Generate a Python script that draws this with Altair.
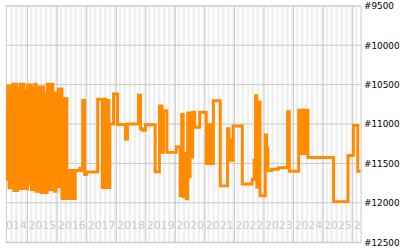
import altair as alt
import pandas as pd

# ---- data ----
dates = [
    "2014-04-08", "2014-04-16", "2014-05-01", "2014-05-16", "2014-06-01", "2014-06-16",
    "2014-07-01", "2014-07-16", "2014-08-01", "2014-08-16", "2014-09-01", "2014-09-16",
    "2014-10-01", "2014-10-16", "2014-11-01", "2014-11-16", "2014-12-01", "2014-12-16",
    "2015-01-01", "2015-01-16", "2015-02-01", "2015-02-16", "2015-03-01", "2015-03-16",
    "2015-04-01", "2015-04-16", "2015-05-01", "2015-05-16", "2015-06-01", "2015-06-16",
    "2015-07-01", "2015-07-16", "2015-08-01", "2015-08-16", "2015-09-01", "2015-09-16",
    "2015-10-01", "2015-10-16", "2015-11-01", "2015-11-08", "2015-11-16", "2015-12-01",
    "2015-12-16", "2016-01-01", "2016-01-16", "2016-02-01", "2016-02-16", "2016-03-01",
    "2016-03-16", "2016-04-01", "2016-04-16", "2016-05-01", "2016-05-16", "2016-06-01",
    "2016-06-16", "2016-07-01", "2016-07-16", "2016-08-01", "2016-08-12", "2016-10-07",
    "2016-10-28", "2016-11-12", "2016-12-06", "2016-12-27", "2017-05-16", "2017-07-13",
    "2017-08-07", "2017-08-25", "2017-09-12", "2017-10-01", "2017-10-13", "2017-11-28",
    "2018-01-16", "2018-04-24", "2018-05-19", "2018-10-01", "2018-10-28", "2018-11-18",
    "2018-12-27", "2019-04-27", "2019-06-18", "2019-07-19", "2019-08-07", "2019-09-18",
    "2020-01-13", "2020-03-01", "2020-03-19", "2020-04-07", "2020-04-19", "2020-05-16",
    "2020-06-01", "2020-06-18", "2020-07-01", "2020-07-19", "2020-08-01", "2020-08-27",
    "2020-10-28", "2021-01-16", "2021-02-01", "2021-02-18", "2021-03-07", "2021-03-25",
    "2021-04-15", "2021-07-09", "2021-10-07", "2021-10-25", "2021-11-12", "2021-12-15",
    "2022-04-07", "2022-08-07", "2022-09-01", "2022-09-18", "2022-10-03", "2022-10-23",
    "2022-11-12", "2023-01-16", "2023-02-01", "2023-02-18", "2023-04-07", "2023-06-27",
    "2023-10-19", "2023-11-09", "2024-03-04", "2024-03-19", "2024-04-01", "2024-04-13",
    "2024-04-25", "2024-05-07", "2024-05-19", "2024-06-01", "2024-06-13", "2024-06-27",
    "2025-05-09", "2025-11-04", "2026-01-09", "2026-03-04", "2026-04-30",
]
ranks = [
    10740, 11700, 10520, 11810, 10520, 11810,
    10495, 11845, 10495, 11845, 10545, 11820,
    10495, 11820, 10495, 11820, 10580, 11820,
    10505, 11755, 10505, 11830, 10545, 11830,
    10495, 11855, 10530, 11855, 10530, 11870,
    10530, 11870, 10605, 11870, 10495, 11830,
    10495, 11830, 10495, 11695, 10605, 11855,
    10605, 11795, 10555, 11795, 10555, 11945,
    10680, 11945, 10680, 11945, 11590, 11945,
    11590, 11945, 11590, 11945, 11590, 11560,
    11590, 10700, 11640, 11610, 10685, 11805,
    10685, 11805, 10700, 11805, 11000, 10620,
    11005, 11190, 11000, 10635, 11060, 11080,
    11010, 11605, 10770, 11360, 10830, 11360,
    11290, 11910, 10880, 11920, 11375, 11950,
    10860, 11670, 10860, 11420, 10850, 11040,
    10850, 11500, 11010, 11500, 11010, 11500,
    10705, 11785, 11060, 11200, 11460, 11025,
    11760, 11700, 11460, 10640, 11800, 10720,
    11910, 11140, 11310, 11590, 11575, 11555,
    10845, 11600, 10825, 11375, 10825, 11375,
    10825, 11375, 10825, 11375, 10825, 11425,
    11985, 11400, 11020, 11600, 11600,
]
year_labels = ["2014", "2015", "2016", "2017", "2018", "2019", "2020",
               "2021", "2022", "2023", "2024", "2025", "2026"]
rank_ticks = [9500, 10000, 10500, 11000, 11500, 12000, 12500]

line_df = pd.DataFrame({"date": dates, "rank": ranks})
label_df = pd.DataFrame({"date": [y + "-01-01" for y in year_labels], "label": year_labels})
yline_df = pd.DataFrame({"date": [y + "-01-01" for y in year_labels[1:]]})
ticks_df = pd.DataFrame({"tick": rank_ticks})

# background month stripes (every other month shaded), kept inside the x domain
months = pd.date_range("2014-05-01", "2026-04-01", freq="MS")
stripe_df = pd.DataFrame({
    "start": [m.strftime("%Y-%m-%d") for m in months[:-1] if m.month % 2 == 0],
    "end": [m2.strftime("%Y-%m-%d") for m, m2 in zip(months[:-1], months[1:]) if m.month % 2 == 0],
})

xscale = alt.Scale(type="utc", domain=[alt.DateTime(year=2014, month=4, date=8, utc=True),
                                       alt.DateTime(year=2026, month=4, date=8, utc=True)])
yscale = alt.Scale(domain=[9500, 12500], reverse=True, nice=False, zero=False)
yaxis = alt.Axis(orient="right", values=rank_ticks, labelExpr="'#' + datum.value",
                 grid=False, ticks=False, domain=False, title=None, labelPadding=3,
                 labelFont="DejaVu Sans", labelFontSize=9, labelColor="#000000",
                 labelOverlap=False)

grid_color = "#c8c8c8"

stripes = alt.Chart(stripe_df).transform_calculate(lo="9500", hi="12500").mark_rect(
    color="#efefef").encode(
    x=alt.X("start:T", scale=xscale, axis=None),
    x2="end:T",
    y=alt.Y("lo:Q", scale=yscale, axis=yaxis),
    y2="hi:Q",
)
vrules = alt.Chart(yline_df).transform_calculate(lo="9500", hi="12500").mark_rule(
    color=grid_color, strokeWidth=1).encode(
    x=alt.X("date:T", scale=xscale, axis=None),
    y=alt.Y("lo:Q", scale=yscale, axis=yaxis),
    y2="hi:Q",
)
hrules = alt.Chart(ticks_df).transform_calculate(
    x0="utc(2014, 3, 8)", x1="utc(2026, 3, 8)").mark_rule(
    color=grid_color, strokeWidth=1).encode(
    x=alt.X("x0:T", scale=xscale, axis=None),
    x2="x1:T",
    y=alt.Y("tick:Q", scale=yscale, axis=yaxis),
)
labels = alt.Chart(label_df).transform_calculate(rank="12500").mark_text(
    align="left", baseline="alphabetic", dx=1, dy=-13, font="DejaVu Sans",
    fontSize=11, color="#c8c8c8", clip=True).encode(
    x=alt.X("date:T", scale=xscale, axis=None),
    y=alt.Y("rank:Q", scale=yscale, axis=yaxis),
    text="label:N",
)
line = alt.Chart(line_df).mark_line(
    interpolate="step-after", color="#ff8c00", strokeWidth=3, clip=True).encode(
    x=alt.X("date:T", scale=xscale, axis=None),
    y=alt.Y("rank:Q", scale=yscale, axis=yaxis),
)

chart = alt.layer(stripes, vrules, hrules, labels, line).properties(
    width=360, height=240,
    padding={"left": 5, "top": 0, "right": 0, "bottom": 0},
).configure_view(stroke=grid_color)

chart.save("out.html", embed_options={"renderer": "svg", "actions": False})
